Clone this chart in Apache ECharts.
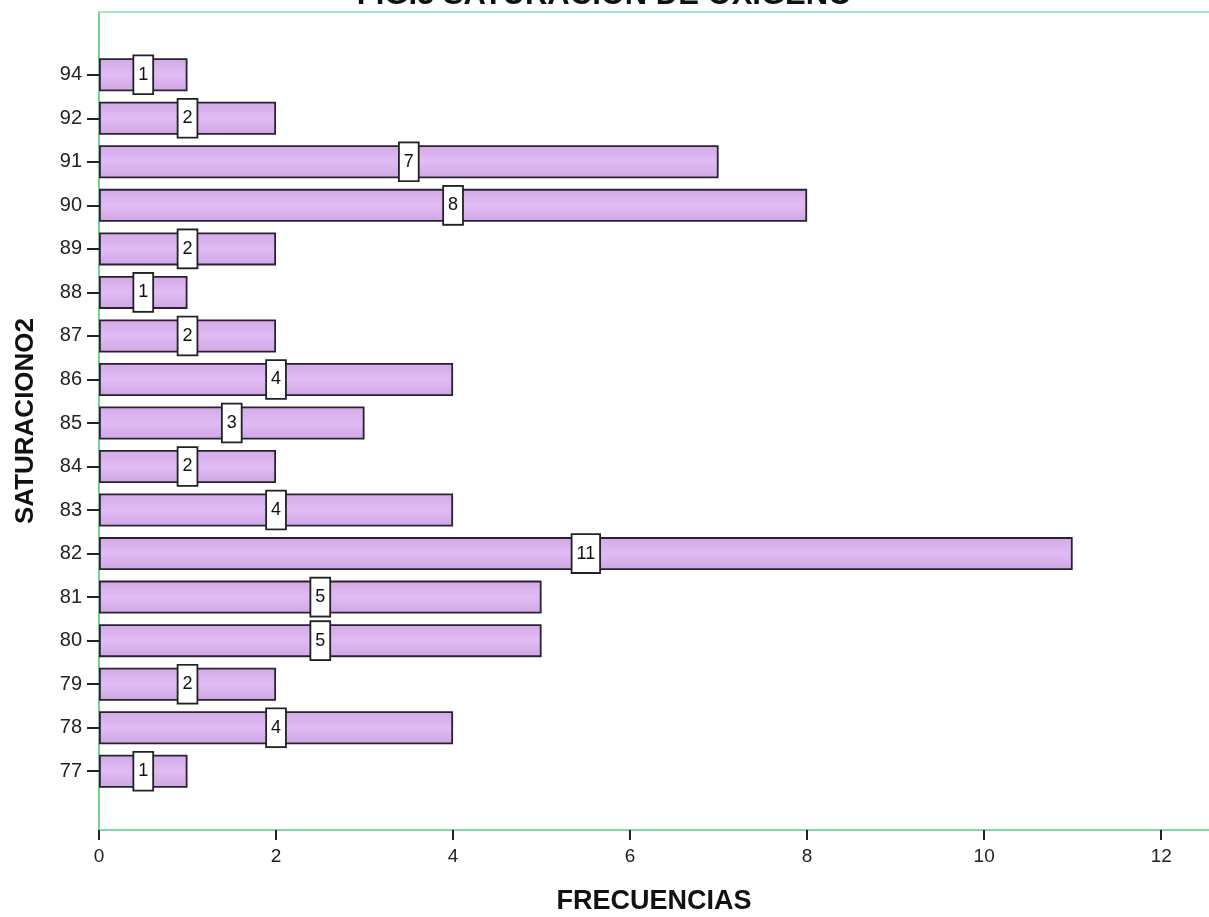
<!DOCTYPE html>
<html>
<head>
<meta charset="utf-8">
<script src="https://cdn.jsdelivr.net/npm/echarts@6/dist/echarts.min.js"></script>
<style>html,body{margin:0;padding:0;background:#fff}#c{width:1209px;height:917px}</style>
</head>
<body>
<div id="c"></div>
<script>
const titleText = 'FIG.3 SATURACION DE OXIGENO';
const categories = ['77','78','79','80','81','82','83','84','85','86','87','88','89','90','91','92','94'];
const frequencies = [1,4,2,5,5,11,4,2,3,4,2,1,2,8,7,2,1];
const xTicks = [0,2,4,6,8,10,12];
const xName = 'FRECUENCIAS';
const yName = 'SATURACIONO2';

const FONT = '"Liberation Sans", Arial, sans-serif';
const XMAX = 12.54;
const chart = echarts.init(document.getElementById('c'), null, {renderer:'canvas'});
chart.setOption({
  backgroundColor:'#ffffff',
  animation:false,
  title:{text:titleText,left:'center',top:-25,
    textStyle:{fontFamily:FONT,fontSize:31,fontWeight:'bold',color:'#111'}},
  grid:[
    {left:99,right:0,top:53,bottom:124,containLabel:false,outerBoundsMode:'none'},
    {left:99,right:0,top:12,bottom:87,containLabel:false,outerBoundsMode:'none'}
  ],
  xAxis:[
    {gridIndex:0,type:'value',min:0,max:XMAX,interval:2,show:false},
    {gridIndex:1,type:'value',min:0,max:XMAX,interval:2,
      name:xName,nameLocation:'middle',nameGap:58,
      nameTextStyle:{fontFamily:FONT,fontSize:27,fontWeight:'bold',color:'#111'},
      axisLine:{show:true,lineStyle:{color:'#7fd6a8',width:2}},
      axisTick:{show:true,length:10,lineStyle:{color:'#222',width:2}},
      axisLabel:{showMaxLabel:false,fontFamily:FONT,fontSize:19,color:'#222',margin:17,
        formatter:function(v){return xTicks.indexOf(v)>=0?String(v):'';}},
      splitLine:{show:false}}
  ],
  yAxis:[
    {gridIndex:0,type:'category',data:categories,
      axisLine:{show:false},
      axisTick:{show:true,alignWithLabel:true,length:12,lineStyle:{color:'#222',width:2}},
      axisLabel:{fontFamily:FONT,fontSize:20,color:'#222',margin:17},
      splitLine:{show:false}},
    {gridIndex:1,type:'value',min:0,max:1,
      name:yName,nameLocation:'middle',nameGap:60,nameRotate:90,
      nameTextStyle:{fontFamily:FONT,fontSize:26,fontWeight:'bold',color:'#111'},
      axisLine:{show:true,lineStyle:{color:'#6fd38f',width:2}},
      axisTick:{show:false},axisLabel:{show:false},splitLine:{show:false}}
  ],
  series:[
    {type:'line',xAxisIndex:1,yAxisIndex:1,data:[[0,1],[XMAX,1]],symbol:'none',silent:true,
      lineStyle:{color:'#a8e6c8',width:2}},
    {type:'bar',xAxisIndex:0,yAxisIndex:0,data:frequencies,barWidth:33,
      itemStyle:{
        color:new echarts.graphic.LinearGradient(0,0,0,1,[
          {offset:0,color:'#d2aae6'},{offset:0.5,color:'#e0bbf4'},{offset:1,color:'#cfa6e4'}]),
        borderColor:'#2a2230',borderWidth:1.8},
      label:{show:true,position:'inside',fontFamily:FONT,fontSize:18,color:'#111',
        backgroundColor:'#fff',borderColor:'#222',borderWidth:1.8,padding:[10,4,9,4]}}
  ]
});
</script>
</body>
</html>
